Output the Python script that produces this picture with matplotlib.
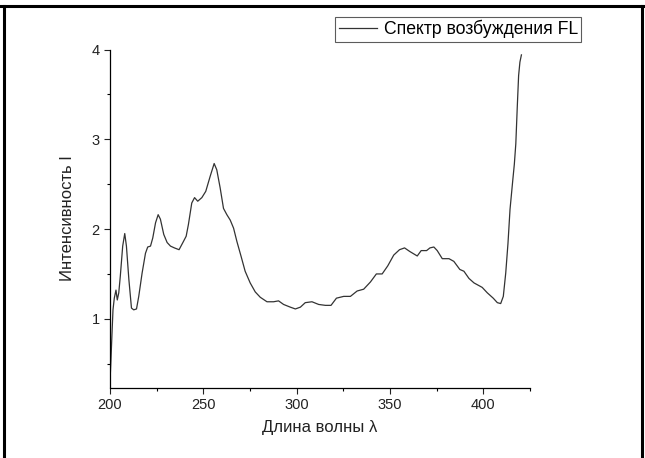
import matplotlib
matplotlib.use("Agg")
import matplotlib.pyplot as plt
from matplotlib.lines import Line2D
from matplotlib.ticker import MultipleLocator

plt.rcParams['font.family'] = ['Liberation Sans', 'DejaVu Sans']

# excitation spectrum
wavelength = [
    200.0, 200.5, 201.0, 201.6, 202.3, 203.2, 203.9, 204.7, 205.5, 206.8,
    207.9, 208.8, 210.1, 211.5, 212.7, 214.2, 215.4, 217.2, 219.0, 220.2,
    221.7, 222.9, 224.4, 225.8, 227.0, 228.8, 230.6, 232.4, 234.5, 237.0,
    239.3, 240.8, 242.0, 243.8, 245.3, 247.0, 249.2, 251.3, 253.7, 255.8,
    257.2, 259.0, 260.8, 262.6, 264.4, 266.2, 268.0, 270.3, 272.4, 275.1,
    277.8, 280.5, 284.1, 287.6, 290.3, 293.0, 296.6, 299.3, 302.0, 304.6,
    308.2, 311.8, 315.4, 318.4, 321.3, 325.2, 328.8, 332.4, 335.9, 339.5,
    342.7, 345.8, 348.8, 352.0, 355.1, 357.8, 360.6, 364.6, 366.7, 369.6,
    371.4, 373.5, 375.3, 378.0, 381.6, 384.2, 387.4, 389.6, 392.3, 395.0,
    399.4, 402.1, 405.3, 407.5, 409.3, 410.7, 412.0, 413.2, 414.3, 415.8,
    416.6, 417.4, 418.2, 418.9, 419.6, 420.4,
]
intensity = [
    0.30, 0.54, 0.80, 1.10, 1.23, 1.32, 1.21, 1.29, 1.47, 1.81,
    1.95, 1.81, 1.44, 1.12, 1.10, 1.11, 1.25, 1.51, 1.73, 1.80,
    1.81, 1.90, 2.07, 2.16, 2.11, 1.94, 1.85, 1.81, 1.79, 1.77,
    1.86, 1.92, 2.05, 2.29, 2.35, 2.31, 2.35, 2.42, 2.59, 2.73,
    2.66, 2.46, 2.23, 2.16, 2.10, 2.01, 1.86, 1.69, 1.53, 1.40,
    1.30, 1.24, 1.19, 1.19, 1.20, 1.16, 1.13, 1.11, 1.13, 1.18,
    1.19, 1.16, 1.15, 1.15, 1.23, 1.25, 1.25, 1.31, 1.33, 1.41,
    1.50, 1.50, 1.59, 1.71, 1.77, 1.79, 1.75, 1.70, 1.76, 1.76,
    1.79, 1.80, 1.76, 1.67, 1.67, 1.64, 1.55, 1.53, 1.45, 1.40,
    1.35, 1.29, 1.23, 1.18, 1.17, 1.25, 1.51, 1.84, 2.22, 2.55,
    2.72, 2.95, 3.37, 3.71, 3.86, 3.94,
]

x_ticks = [200, 250, 300, 350, 400]
y_ticks = [1, 2, 3, 4]

fig = plt.figure(figsize=(6.45, 4.58), dpi=100)
ax = fig.add_axes([110 / 645, 1 - 387.5 / 458, 420 / 645, 338 / 458])

ax.plot(wavelength, intensity, color='#333333', lw=0.9, label='Спектр возбуждения FL')

ax.set_xlim(200, 425)
ax.set_ylim(0.235, 4.0)
ax.set_xticks(x_ticks)
ax.set_yticks(y_ticks)
ax.xaxis.set_minor_locator(MultipleLocator(25))
ax.yaxis.set_minor_locator(MultipleLocator(0.5))
ax.tick_params(which='major', length=4.5, width=0.8, labelsize=10.5, pad=3, colors='#222222')
ax.tick_params(which='minor', length=2.5, width=0.8)

ax.spines['right'].set_visible(False)
ax.spines['top'].set_visible(False)
ax.spines['left'].set_linewidth(0.9)
ax.spines['bottom'].set_linewidth(0.9)

ax.set_xlabel('Длина волны λ', fontsize=12, color='#222222', labelpad=6)
ax.set_ylabel('Интенсивность I', fontsize=12, color='#222222', labelpad=12)

leg = ax.legend(loc='upper left', bbox_to_anchor=(335 / 645, 1 - 16.5 / 458),
                bbox_transform=fig.transFigure, fontsize=12.7, frameon=True,
                fancybox=False, handlelength=2.2, handletextpad=0.35,
                borderpad=0.2, borderaxespad=0)
leg.get_frame().set_edgecolor('#333333')
leg.get_frame().set_linewidth(0.8)

# thick frame around the picture (left, top, right)
fig.add_artist(Line2D([0, 1], [1 - 5.7 / 458] * 2, color='black', lw=2.2,
                      transform=fig.transFigure))
fig.add_artist(Line2D([4.3 / 645] * 2, [0, 1 - 5.7 / 458], color='black', lw=2.2,
                      transform=fig.transFigure))
fig.add_artist(Line2D([641.7 / 645] * 2, [0, 1 - 5.7 / 458], color='black', lw=2.2,
                      transform=fig.transFigure))

fig.savefig('out.png', dpi=100)
